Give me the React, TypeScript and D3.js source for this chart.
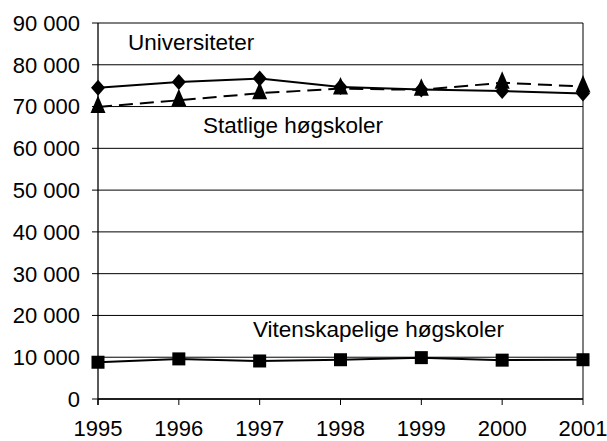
import React from 'react';
import * as d3 from 'd3';

const years = [1995, 1996, 1997, 1998, 1999, 2000, 2001];
const universiteter = [74500, 75900, 76700, 74700, 74100, 73700, 73100];
const statlige = [69900, 71500, 73200, 74300, 74000, 75700, 74800];
const vitenskapelige = [8800, 9600, 9100, 9400, 9900, 9300, 9400];
const yTicks = [0, 10000, 20000, 30000, 40000, 50000, 60000, 70000, 80000, 90000];

const width = 607;
const height = 441;
const margin = { top: 23, left: 98, right: 24, bottom: 42 };
const font = '"Liberation Sans", Arial, sans-serif';

const fmt = (v: number) => (v === 0 ? '0' : d3.format(',')(v).replace(/,/g, ' '));

// marker shapes, centred on the data point
const diamond = 'M0,-8L7,0L0,8L-7,0Z';
const triangle = 'M0,-11.5L7.5,6L-7.5,6Z';

export default function App() {
  const x = d3.scaleLinear().domain([1995, 2001]).range([margin.left, width - margin.right]);
  const y = d3.scaleLinear().domain([0, 90000]).range([height - margin.bottom, margin.top]);

  const line = d3
    .line<number>()
    .x((_, i) => x(years[i]))
    .y((d) => y(d));

  const x0 = x(1995);
  const x1 = x(2001);
  const y0 = y(0);

  return (
    <svg width={width} height={height} style={{ position: 'absolute', left: 0, top: 0 }}>
      <rect width={width} height={height} fill="#fff" />
      {yTicks.map((t) => (
        <g key={t}>
          <line x1={x0 - 6} x2={x1} y1={y(t)} y2={y(t)} stroke="#000" strokeWidth={1} />
          <text x={80} y={y(t)} dy="0.36em" textAnchor="end" fontFamily={font} fontSize={22}>
            {fmt(t)}
          </text>
        </g>
      ))}
      <line x1={x0} x2={x0} y1={y(90000)} y2={y0 + 6} stroke="#000" strokeWidth={1.3} />
      <line x1={x1} x2={x1} y1={y(90000)} y2={y0} stroke="#000" strokeWidth={1} />
      <line x1={x0} x2={x1} y1={y0} y2={y0} stroke="#000" strokeWidth={1.3} />
      {years.map((yr) => (
        <g key={yr}>
          <line x1={x(yr)} x2={x(yr)} y1={y0} y2={y0 + 6} stroke="#000" strokeWidth={1} />
          <text x={x(yr)} y={436} textAnchor="middle" fontFamily={font} fontSize={22}>
            {yr}
          </text>
        </g>
      ))}

      <path d={line(statlige)!} fill="none" stroke="#000" strokeWidth={2} strokeDasharray="14,7" />
      <path d={line(universiteter)!} fill="none" stroke="#000" strokeWidth={2} />
      <path d={line(vitenskapelige)!} fill="none" stroke="#000" strokeWidth={2} />

      {universiteter.map((v, i) => (
        <path key={'u' + i} d={diamond} transform={`translate(${x(years[i])},${y(v)})`} fill="#000" />
      ))}
      {statlige.map((v, i) => (
        <path key={'s' + i} d={triangle} transform={`translate(${x(years[i])},${y(v)})`} fill="#000" />
      ))}
      {vitenskapelige.map((v, i) => (
        <rect key={'v' + i} x={x(years[i]) - 6.5} y={y(v) - 6.5} width={13} height={13} fill="#000" />
      ))}

      <text x={128} y={50} fontFamily={font} fontSize={22.5}>Universiteter</text>
      <text x={203} y={133} fontFamily={font} fontSize={22.5}>Statlige høgskoler</text>
      <text x={253} y={337} fontFamily={font} fontSize={22.5}>Vitenskapelige høgskoler</text>
    </svg>
  );
}
